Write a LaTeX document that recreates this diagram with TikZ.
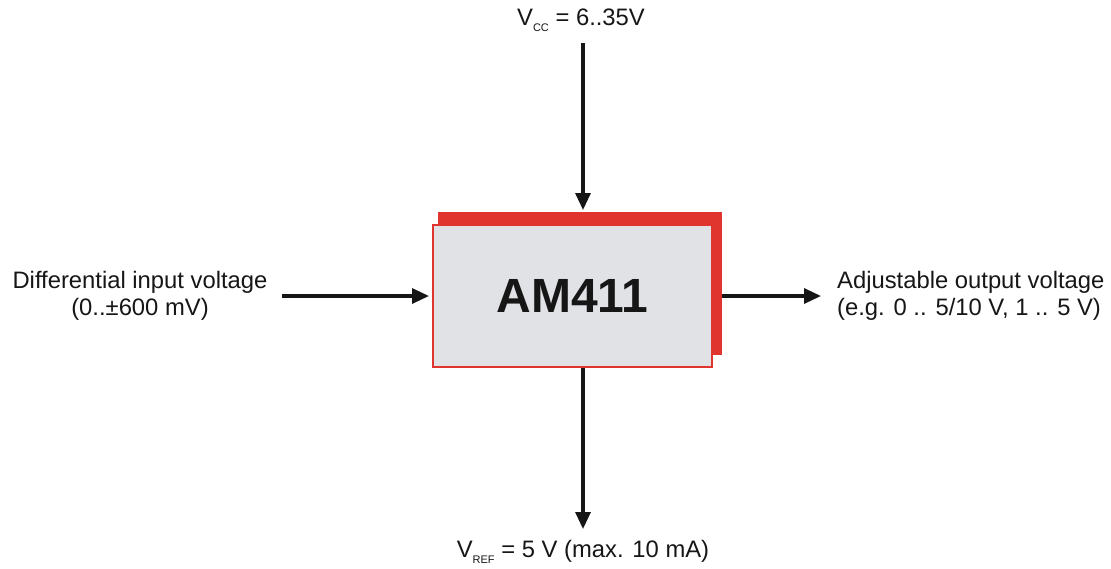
\documentclass[tikz,border=0pt]{standalone}
\usepackage{fontspec}
\setmainfont{Liberation Sans}
\usetikzlibrary{arrows.meta}
\definecolor{boxred}{HTML}{E0342F}
\definecolor{boxgray}{HTML}{E1E2E5}
\definecolor{ink}{HTML}{161616}
\newcommand{\lowsub}[1]{\raisebox{-0.45ex}{\fontsize{11}{11}\selectfont #1}}
\tikzset{
  conn/.style={draw=ink, line width=3.2pt, -{Triangle[length=17pt,width=15pt]}},
  lbl/.style={text=ink, font=\fontsize{23.8}{27}\selectfont, inner sep=0pt},
}
\begin{document}
\begin{tikzpicture}[x=1pt,y=-1pt]
\useasboundingbox (0,0) rectangle (1111,568);
% shadow
\fill[boxred] (438,212) rectangle (722,355);
% front box
\node[draw=boxred, fill=boxgray, line width=2.2pt, minimum width=279pt, minimum height=142pt, inner sep=0pt, anchor=north west,
      text=ink, font=\fontsize{48}{50}\selectfont\bfseries] (box) at (432,224) {AM411};
% labels
\node[lbl, align=center] (in) at (140,296) {Differential input voltage\\(0..±600 mV)};
\node[lbl, align=left, anchor=west] (out) at (837,296) {Adjustable output voltage\\(e.g. 0 .. 5/10 V, 1 .. 5 V)};
\node[lbl] (vcc) at (581,20) {V\lowsub{CC} = 6..35V};
\node[lbl] (vref) at (583,552) {V\lowsub{REF} = 5 V (max. 10 mA)};
% connector ends
\coordinate (inS) at (282,296);
\coordinate (inE) at (429,296);
\coordinate (outS) at (722,296);
\coordinate (outE) at (821,296);
\coordinate (topS) at (583,43);
\coordinate (topE) at (583,210);
\coordinate (botE) at (583,529);
\draw[conn] (inS) -- (inE);
\draw[conn] (outS) -- (outE);
\draw[conn] (topS) -- (topE);
\draw[conn] (box.south -| botE) -- (botE);
\end{tikzpicture}
\end{document}
